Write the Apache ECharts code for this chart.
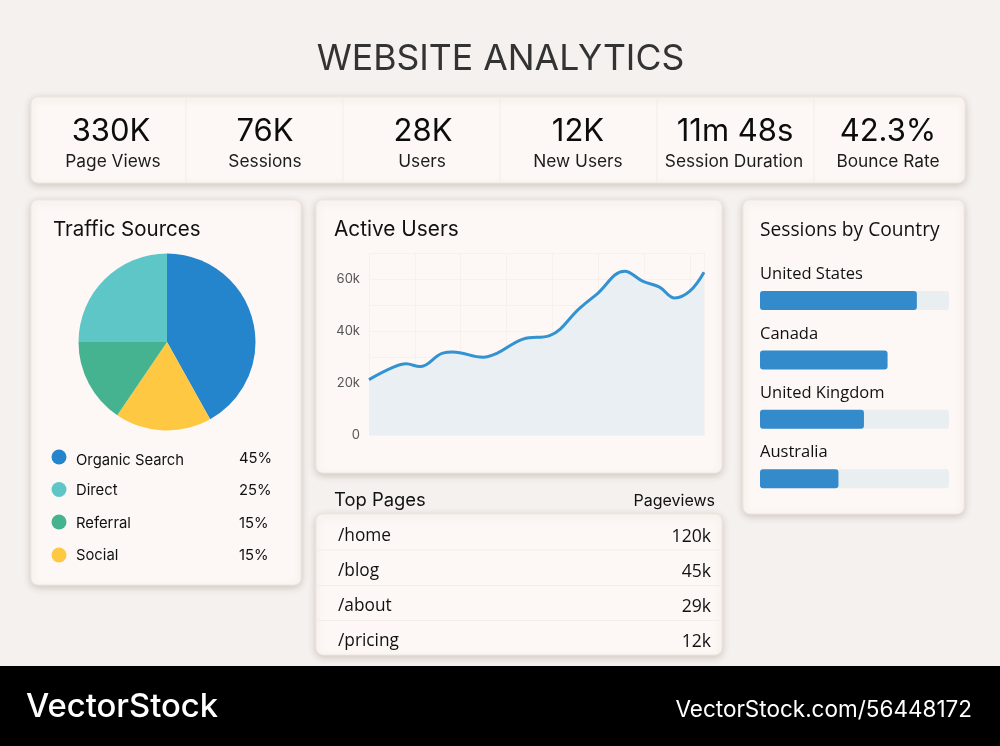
<!DOCTYPE html>
<html><head><meta charset="utf-8">
<style>html,body{margin:0;padding:0;background:#f5f1ee}#c{width:1000px;height:746px}</style>
<script src="https://cdn.jsdelivr.net/npm/echarts@6/dist/echarts.min.js"></script>
</head><body><div id="c"></div>
<script>
const kpiValues = ['330K','76K','28K','12K','11m 48s','42.3%'];
const kpiLabels = ['Page Views','Sessions','Users','New Users','Session Duration','Bounce Rate'];
const sliceNames = ['Organic Search','Social','Referral','Direct'];
const sliceValues = [41.9,17.6,15.5,25];
const legendNames = ['Organic Search','Direct','Referral','Social'];
const legendPercents = ['45%','25%','15%','15%'];
const activeX = [0,0.52,0.81,1.11,1.61,1.83,2.49,2.78,3.36,3.94,4.6,4.96,5.58,5.98,6.34,6.67,7,7.31];
const activeY = [21.3,26,27.4,26.3,31.5,31.9,29.9,31.3,36.9,38.2,48.8,54,63,59.1,56.9,52.7,55.3,62.6];
const countries = ['United States','Canada','United Kingdom','Australia'];
const countryValues = [83,67.5,55,41.5];
const countryTrack = [100,null,100,100];
const pages = ['/home','/blog','/about','/pricing'];
const pageViews = ['120k','45k','29k','12k'];

const BG='#f5f1ee', CARD='#fdf8f5', INK='#111', SANS='Inter', HUM='"Open Sans"';
const colors={'Organic Search':'#2585cc','Direct':'#5ec6c6','Referral':'#45b38f','Social':'#fec843'};
const g=[];
function card(x,y,w,h){g.push({type:'rect',z:-10,shape:{x,y,width:w,height:h,r:7},
  style:{fill:CARD,stroke:'#eee8e3',lineWidth:1,shadowBlur:7,shadowOffsetY:2,shadowColor:'rgba(110,90,75,.28)'}});}
function text(t,x,y,size,o={}){g.push({type:'text',z:5,x,y,style:{text:t,font:`${o.w||400} ${size}px ${o.f||SANS}`,
  fill:o.c||INK,align:o.a||'left',verticalAlign:'middle'}});}
function rule(x1,y1,x2,y2){g.push({type:'line',z:-5,shape:{x1,y1,x2,y2},style:{stroke:'#f2ede9',lineWidth:1}});}

g.push({type:'rect',z:-20,shape:{x:0,y:0,width:1000,height:746},style:{fill:BG}});
text('WEBSITE ANALYTICS',500.5,59.5,35.6,{a:'center',c:'#333'});
card(31,97,934,86);
[186,343,500,657,814].forEach(x=>rule(x,98,x,182));
const kx=[111,265,423,578,735,888], lx=[113,265,422,578,734,888];
kpiValues.forEach((v,i)=>{text(v,kx[i],132,31,{a:'center',c:'#0c0c0c'});text(kpiLabels[i],lx[i],162,17.3,{a:'center',c:'#1c1c1c'});});

card(31,200,270,385);
text('Traffic Sources',53,230,20.5);
const ly=[461,491,524,556], dy=[457,489.5,522,555], py=[459,491,524,556];
legendNames.forEach((n,i)=>{
  g.push({type:'circle',z:5,shape:{cx:59,cy:dy[i],r:7.5},style:{fill:colors[n]}});
  text(n,76,ly[i],14.8); text(legendPercents[i],239,py[i],14.8);
});

card(316,200,406,273);
text('Active Users',334,230,20.8);

card(743,200,221,314);
text('Sessions by Country',760,231,19.2,{f:HUM});

text('Top Pages',334,500,18.4);
text('Pageviews',715,501,16,{a:'right'});
card(316,514,406,141);
[550,585.5,620.5].forEach(y=>rule(317,y,721,y));
const ry=[536.5,571.5,606.5,641.5];
pages.forEach((p,i)=>{text(p,338,ry[i],17.3,{f:HUM});text(pageViews[i],711,ry[i],17.6,{f:HUM,a:'right'});});

g.push({type:'rect',z:-9,shape:{x:0,y:666,width:1000,height:80},style:{fill:'#000'}});
text('VectorStock',26,707,32.8,{c:'#fff',w:500});
text('VectorStock.com/56448172',972,710,22.5,{c:'#fff',a:'right'});

const option={
  animation:false,
  backgroundColor:BG,
  graphic:{elements:g},
  tooltip:{show:false},
  grid:[
    {left:369,top:253,width:335,height:182},
    {left:760,top:270.8,width:189,height:237.6}
  ],
  xAxis:[
    {gridIndex:0,type:'value',min:0,max:7.31,interval:1,z:1,axisLine:{show:false},axisTick:{show:false},axisLabel:{show:false},
     splitLine:{show:true,lineStyle:{color:'#f6f1ed',width:1}}},
    {gridIndex:1,type:'value',min:0,max:100,show:false}
  ],
  yAxis:[
    {gridIndex:0,type:'value',min:0,max:70,interval:10,z:1,axisLine:{show:false},axisTick:{show:false},
     splitLine:{show:true,lineStyle:{color:'#f6f1ed',width:1}},
     axisLabel:{margin:9,color:'#555',fontFamily:SANS,fontSize:13,
       formatter:v=>v===0?'0':(v===20||v===40||v===60)?v+'k':''}},
    {gridIndex:1,type:'category',inverse:true,data:countries,show:false}
  ],
  series:[
    {type:'pie',center:[167,342],radius:88.5,startAngle:90,silent:true,label:{show:false},labelLine:{show:false},
     data:sliceNames.map((n,i)=>({name:n,value:sliceValues[i],itemStyle:{color:colors[n]}}))},
    {type:'line',xAxisIndex:0,yAxisIndex:0,smooth:0.4,symbol:'none',silent:true,
     data:activeX.map((x,i)=>[x,activeY[i]]),
     lineStyle:{color:'#3292d2',width:3},areaStyle:{color:'#e9eff3',opacity:1}},
    {type:'bar',xAxisIndex:1,yAxisIndex:1,barWidth:19,barGap:'-100%',silent:true,data:countryTrack,
     itemStyle:{color:'#e9eef0',borderRadius:3}},
    {type:'bar',xAxisIndex:1,yAxisIndex:1,barWidth:19,barGap:'-100%',silent:true,data:countryValues,
     itemStyle:{color:'#348bcb',borderRadius:3},
     label:{show:true,position:'insideLeft',distance:0,offset:[0,-26],formatter:'{b}',color:INK,fontFamily:'Open Sans',fontSize:16.5}}
  ]
};
echarts.init(document.getElementById('c'),null,{renderer:'canvas'}).setOption(option);
</script></body></html>
